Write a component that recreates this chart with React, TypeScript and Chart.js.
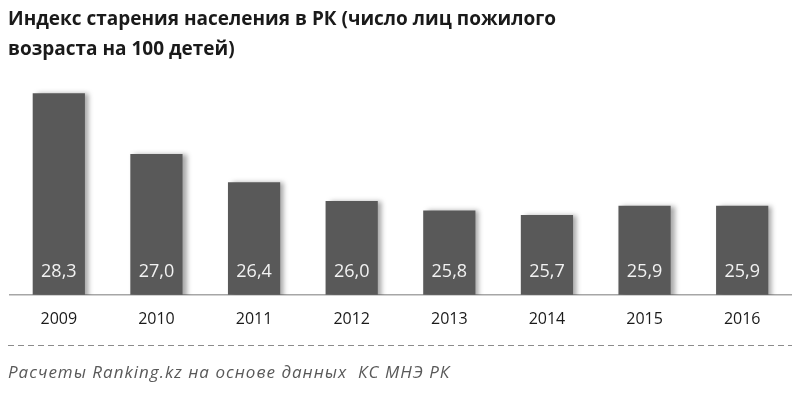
import React, { useEffect, useRef } from "react";
import { Chart, registerables } from "chart.js";

Chart.register(...registerables);

const years = ["2009", "2010", "2011", "2012", "2013", "2014", "2015", "2016"];
const agingIndex = [28.3, 27.0, 26.4, 26.0, 25.8, 25.7, 25.9, 25.9];
const titleLines = [
  "Индекс старения населения в РК (число лиц пожилого",
  "возраста на 100 детей)",
];
const sourceNote = "Расчеты Ranking.kz на основе данных  КС МНЭ РК";

const FONT = "'Open Sans', 'Noto Sans', sans-serif";

const decorPlugin = {
  id: "decor",
  beforeDatasetsDraw(chart: any) {
    const ctx = chart.ctx;
    ctx.save();
    ctx.shadowColor = "rgba(0,0,0,0.35)";
    ctx.shadowBlur = 5;
    ctx.shadowOffsetX = 4;
    ctx.shadowOffsetY = 0;
  },
  afterDatasetsDraw(chart: any) {
    const ctx = chart.ctx;
    ctx.restore();
    const meta = chart.getDatasetMeta(0);
    ctx.save();
    ctx.fillStyle = "#f2f2f2";
    ctx.font = `18px ${FONT}`;
    ctx.textAlign = "center";
    ctx.textBaseline = "middle";
    const base = chart.chartArea.bottom;
    meta.data.forEach((bar: any, i: number) => {
      const v = agingIndex[i].toFixed(1).replace(".", ",");
      ctx.fillText(v, bar.x, base - 23);
    });
    ctx.restore();
  },
  afterDraw(chart: any) {
    const ctx = chart.ctx;
    ctx.save();
    // title
    ctx.fillStyle = "#1a1a1a";
    ctx.font = `bold 19px ${FONT}`;
    ctx.textAlign = "left";
    ctx.textBaseline = "middle";
    ctx.fillText(titleLines[0], 8, 20);
    ctx.fillText(titleLines[1], 8, 50);
    // dashed separator
    ctx.strokeStyle = "#8c8c8c";
    ctx.lineWidth = 1;
    ctx.setLineDash([6, 4]);
    ctx.beginPath();
    ctx.moveTo(8, 345.5);
    ctx.lineTo(792, 345.5);
    ctx.stroke();
    ctx.setLineDash([]);
    // source
    ctx.fillStyle = "#595959";
    ctx.font = `italic 17px ${FONT}`;
    (ctx as any).letterSpacing = "1px";
    ctx.fillText(sourceNote, 8, 373);
    ctx.restore();
  },
};

export default function App() {
  const ref = useRef<HTMLCanvasElement>(null);
  useEffect(() => {
    const chart = new Chart(ref.current!, {
      type: "bar",
      data: {
        labels: years,
        datasets: [
          {
            data: agingIndex,
            backgroundColor: "#595959",
            borderWidth: 0,
            barPercentage: 0.535,
            categoryPercentage: 1,
          },
        ],
      },
      options: {
        animation: false,
        responsive: false,
        maintainAspectRatio: false,
        layout: { padding: { top: 83.75, left: 10, right: 9, bottom: 57 } },
        plugins: {
          legend: { display: false },
          tooltip: { enabled: false },
          title: { display: false },
        },
        scales: {
          x: {
            grid: { display: false },
            border: { display: true, color: "#a6a6a6", width: 1.5 },
            ticks: { color: "#1a1a1a", font: { family: FONT, size: 16 }, padding: 7 },
          },
          y: {
            display: false,
            min: 24,
            max: 28.5,
          },
        },
      },
      plugins: [decorPlugin],
    });
    return () => chart.destroy();
  }, []);
  return (
    <div style={{ position: "fixed", left: 0, top: 0, width: 800, height: 393, background: "#fff" }}>
      <canvas ref={ref} width={800} height={393} style={{ width: 800, height: 393 }} />
    </div>
  );
}
